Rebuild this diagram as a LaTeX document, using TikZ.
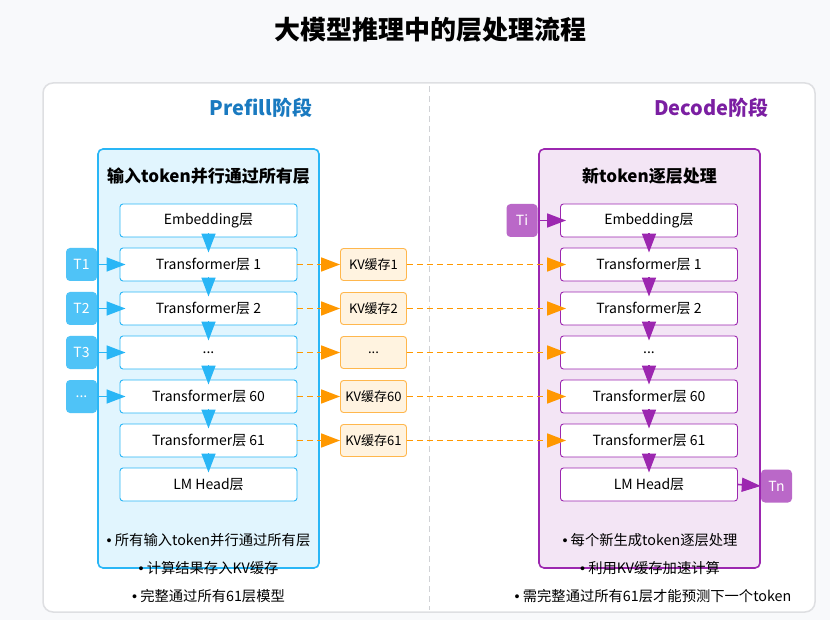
\documentclass[tikz,border=0pt]{standalone}
\usepackage{fontspec}
\setmainfont{Noto Sans CJK SC}
\newfontfamily\bulletFont{Liberation Sans}
\usepackage{tikz}
\usetikzlibrary{positioning,arrows.meta}
\tikzstyle{pixelGrid} = [x = 1pt, y = -1pt]
\definecolor{pageColor}{HTML}{F8F9FB}
\definecolor{panelLine}{HTML}{DEDFE2}
\definecolor{dividerColor}{HTML}{D0D2D6}
\definecolor{prefillTitle}{HTML}{1A7AC0}
\definecolor{prefillLine}{HTML}{29B6F6}
\definecolor{prefillFill}{HTML}{E1F5FE}
\definecolor{tokenBlue}{HTML}{4FC3F7}
\definecolor{decodeTitle}{HTML}{7B1FA2}
\definecolor{decodeLine}{HTML}{9C27B0}
\definecolor{decodeFill}{HTML}{F3E5F5}
\definecolor{tokenPurple}{HTML}{BA68C8}
\definecolor{cacheLine}{HTML}{FFB74D}
\definecolor{cacheFill}{HTML}{FFF3E0}
\definecolor{cacheArrow}{HTML}{FF9800}
\tikzstyle{groupBox} = [draw, line width = 1.6pt, rounded corners = 5pt, minimum width = 221pt, minimum height = 419pt, inner sep = 0pt]
\tikzstyle{layerBox} = [draw, fill = white, line width = .9pt, rounded corners = 3pt, minimum width = 177pt, minimum height = 33pt, inner sep = 0pt, font = \fontsize{14}{16}\selectfont]
\tikzstyle{tokenBox} = [rounded corners = 4pt, minimum width = 31pt, minimum height = 33pt, inner sep = 0pt, text = white, font = \fontsize{14}{16}\selectfont]
\tikzstyle{cacheBox} = [draw = cacheLine, fill = cacheFill, line width = .9pt, rounded corners = 3pt, minimum width = 66pt, minimum height = 32pt, inner sep = 0pt, font = \fontsize{13}{15}\selectfont]
\tikzstyle{flowArrow} = [-{Triangle[length = 19pt, width = 14pt]}, line width = 1.6pt]
\tikzstyle{cacheFlow} = [flowArrow, color = cacheArrow, line width = 1.6pt, dash pattern = on 6pt off 4pt]
\tikzstyle{phaseTitle} = [font = \fontsize{20}{24}\selectfont\bfseries]
\tikzstyle{groupTitle} = [font = \fontsize{17}{20}\selectfont\bfseries]
\tikzstyle{noteText} = [font = \fontsize{14.3}{17}\selectfont]
\newcommand{\layerRow}[1]{220.5 + 44 * #1}
\newcommand{\gapDots}{...}
\newcommand{\noteBullet}{{\bulletFont •} }
\newcommand{\downArrows}[2]{
  \foreach \upper/\lower in {Emb/L1, L1/L2, L2/Dots, Dots/L60, L60/L61, L61/Head} {
    \draw [flowArrow, #2] ([yshift = 4pt]#1\upper.south) -- ([yshift = -5pt]#1\lower.north);
  }
}

\begin{document}
\begin{tikzpicture}[pixelGrid]
  \fill [pageColor] (0,0) rectangle (830,620);
  \useasboundingbox (0,0) rectangle (830,620);
  \node [font = \fontsize{26}{30}\selectfont\bfseries] (mainTitle) at (430,30) {大模型推理中的层处理流程};
  \filldraw [draw = panelLine, fill = white, line width = 1.5pt, rounded corners = 10pt] (43,83) rectangle (815,612);
  \draw [dividerColor, line width = 1pt, dash pattern = on 6pt off 4pt] (429,86) -- (429,610);

  % phase titles
  \node [phaseTitle, text = prefillTitle] (prefillTitle) at (261,108) {Prefill阶段};
  \node [phaseTitle, text = decodeTitle] (decodeTitle) at (711.5,108) {Decode阶段};

  % group boxes
  \node [groupBox, draw = prefillLine, fill = prefillFill] (prefillBox) at (208.5,358.5) {};
  \node [groupBox, draw = decodeLine, fill = decodeFill] (decodeBox) at (649.5,358.5) {};
  \node [groupTitle] (prefillHead) at (208.5,176) {输入token并行通过所有层};
  \node [groupTitle] (decodeHead) at (649.5,176) {新token逐层处理};

  % layers
  \foreach \name/\text [count = \row from 0] in {Emb/Embedding层, L1/Transformer层 1, L2/Transformer层 2, Dots/\gapDots, L60/Transformer层 60, L61/Transformer层 61, Head/LM Head层} {
    \node [layerBox, draw = prefillLine] (p\name) at (208.5, {\layerRow{\row}}) {\text};
    \node [layerBox, draw = decodeLine] (d\name) at (649, {\layerRow{\row}}) {\text};
  }
  \downArrows{p}{prefillLine}
  \downArrows{d}{decodeLine}

  % input tokens
  \foreach \name/\text [count = \row] in {L1/T1, L2/T2, Dots/T3, L60/\gapDots} {
    \node [tokenBox, fill = tokenBlue] (tok\name) at (81.5, {\layerRow{\row}}) {\text};
    \draw [flowArrow, prefillLine] (tok\name.east) -- ([xshift = 6pt]p\name.west);
  }
  \node [tokenBox, fill = tokenPurple] (tokTi) at (522,220.5) {Ti};
  \draw [flowArrow, decodeLine] (tokTi.east) -- ([xshift = 6pt]dEmb.west);
  \node [tokenBox, fill = tokenPurple] (tokTn) at (776.5,486) {Tn};
  \draw [flowArrow, decodeLine] (dHead.east) -- (tokTn.west);

  % kv cache
  \foreach \name/\text [count = \row] in {L1/KV缓存1, L2/KV缓存2, Dots/\gapDots, L60/KV缓存60, L61/KV缓存61} {
    \node [cacheBox] (kv\name) at (373.5, {\layerRow{\row}}) {\text};
    \draw [cacheFlow] (p\name.east) -- (kv\name.west);
    \draw [cacheFlow] (kv\name.east) -- ([xshift = 6pt]d\name.west);
  }

  % notes
  \node [noteText] (prefillNoteA) at (208.5,540) {\noteBullet 所有输入token并行通过所有层};
  \node [noteText] (prefillNoteB) at (208.5,568) {\noteBullet 计算结果存入KV缓存};
  \node [noteText] (prefillNoteC) at (208.5,596) {\noteBullet 完整通过所有61层模型};
  \node [noteText] (decodeNoteA) at (650,540) {\noteBullet 每个新生成token逐层处理};
  \node [noteText] (decodeNoteB) at (650,568) {\noteBullet 利用KV缓存加速计算};
  \node [noteText] (decodeNoteC) at (653,596) {\noteBullet 需完整通过所有61层才能预测下一个token};
\end{tikzpicture}
\end{document}
